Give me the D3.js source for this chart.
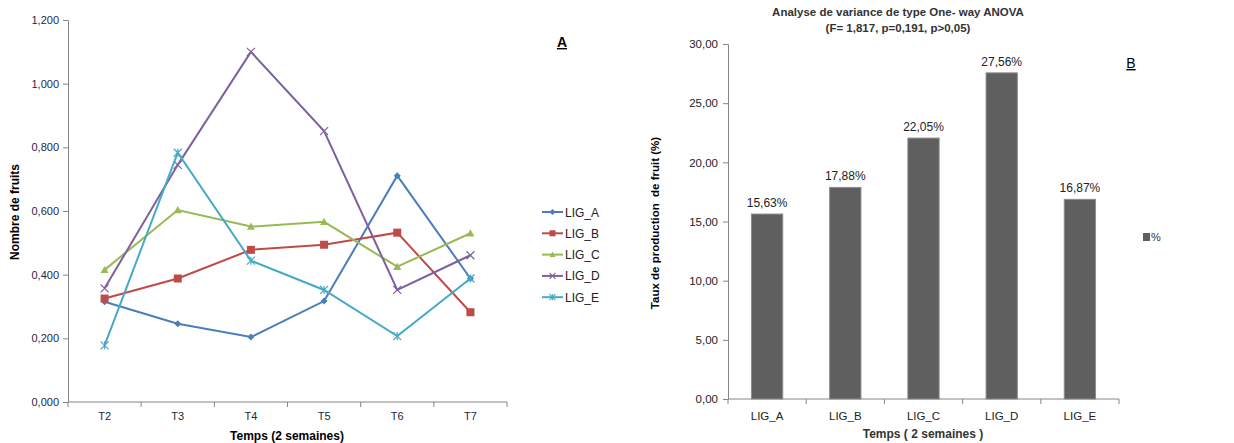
<!DOCTYPE html>
<html>
<head>
<meta charset="utf-8">
<script src="https://cdn.jsdelivr.net/npm/d3@7"></script>
<style>
  body { margin: 0; background: #fff; }
  svg { font-family: "Liberation Sans", Arial, sans-serif; }
  .axis path, .axis line { stroke: #868686; }
  .axis text { fill: #1f1f3f; font-size: 11px; }
  .axisB text { fill: #222; font-size: 11.5px; }
</style>
</head>
<body>
<div id="svg-container" style="width:1234px;height:443px;"></div>
<script>
var width = 1234, height = 443;

// chart A : number of fruits per fortnight
var periods = ["T2", "T3", "T4", "T5", "T6", "T7"];
var seriesNames = ["LIG_A", "LIG_B", "LIG_C", "LIG_D", "LIG_E"];
var ligA = [0.315, 0.246, 0.204, 0.317, 0.711, 0.388];
var ligB = [0.325, 0.388, 0.478, 0.494, 0.532, 0.282];
var ligC = [0.415, 0.603, 0.551, 0.566, 0.425, 0.530];
var ligD = [0.357, 0.745, 1.100, 0.851, 0.352, 0.461];
var ligE = [0.178, 0.783, 0.444, 0.352, 0.207, 0.388];
var yTicksA = [0, 0.2, 0.4, 0.6, 0.8, 1.0, 1.2];

// chart B : fruit production rate
var lines = ["LIG_A", "LIG_B", "LIG_C", "LIG_D", "LIG_E"];
var rates = [15.63, 17.88, 22.05, 27.56, 16.87];
var yTicksB = [0, 5, 10, 15, 20, 25, 30];

var colors = ["#4a7ebb", "#be4b48", "#98b954", "#7d60a0", "#46aac5"];
var symbols = ["diamond", "square", "triangle", "cross", "star"];

var svg = d3.select("#svg-container")
            .append("svg")
            .attr("width", width)
            .attr("height", height);

var frNum = function(d, n) { return d3.format("." + n + "f")(d).replace(".", ","); };

// ---------- chart A ----------
var gA = svg.append("g");

var scaleX = d3.scaleBand()
               .domain(periods)
               .range([68, 507]);

var scaleY = d3.scaleLinear()
               .domain([0, 1.2])
               .range([402, 20]);

gA.append("g")
  .attr("class", "axis")
  .attr("transform", "translate(68,0)")
  .call(d3.axisLeft(scaleY)
          .tickValues(yTicksA)
          .tickSize(5)
          .tickFormat(function(d) { return frNum(d, 3); }))
  .call(function(g) { g.selectAll("text").attr("x", -9); });

var xAxA = gA.append("g")
  .attr("class", "axis")
  .attr("transform", "translate(0,402)")
  .call(d3.axisBottom(scaleX).tickSize(0).tickPadding(10));
xAxA.select(".domain").attr("d", "M68,0H507");
// ticks on band edges
xAxA.selectAll(".edge")
    .data(d3.range(periods.length + 1))
    .enter()
    .append("line")
    .attr("stroke", "#868686")
    .attr("x1", function(i) { return 68 + i * scaleX.step(); })
    .attr("x2", function(i) { return 68 + i * scaleX.step(); })
    .attr("y1", 0)
    .attr("y2", 5);

var allSeries = [ligA, ligB, ligC, ligD, ligE];

var line = d3.line()
             .x(function(d, i) { return scaleX(periods[i]) + scaleX.bandwidth() / 2; })
             .y(function(d) { return scaleY(d); });

function drawMarker(g, type, color, x, y, s) {
  if (type === "diamond") {
    g.append("path").attr("d", "M" + x + "," + (y - s) + "L" + (x + s) + "," + y + "L" + x + "," + (y + s) + "L" + (x - s) + "," + y + "Z")
     .attr("fill", color);
  } else if (type === "square") {
    g.append("rect").attr("x", x - s).attr("y", y - s).attr("width", 2 * s).attr("height", 2 * s)
     .attr("fill", color);
  } else if (type === "triangle") {
    g.append("path").attr("d", "M" + x + "," + (y - s) + "L" + (x + s) + "," + (y + s * 0.8) + "L" + (x - s) + "," + (y + s * 0.8) + "Z")
     .attr("fill", color);
  } else if (type === "cross") {
    g.append("path").attr("d", "M" + (x - s) + "," + (y - s) + "L" + (x + s) + "," + (y + s) + "M" + (x - s) + "," + (y + s) + "L" + (x + s) + "," + (y - s))
     .attr("stroke", color).attr("stroke-width", 1.2).attr("fill", "none");
  } else {
    g.append("path").attr("d", "M" + (x - s) + "," + (y - s) + "L" + (x + s) + "," + (y + s) + "M" + (x - s) + "," + (y + s) + "L" + (x + s) + "," + (y - s) + "M" + x + "," + (y - s) + "L" + x + "," + (y + s))
     .attr("stroke", color).attr("stroke-width", 1.2).attr("fill", "none");
  }
}

allSeries.forEach(function(data, k) {
  gA.append("path")
    .datum(data)
    .attr("class", "line")
    .attr("fill", "none")
    .attr("stroke", colors[k])
    .attr("stroke-width", 2)
    .attr("d", line);

  var sizes = { diamond: 3.5, square: 4, triangle: 4, cross: 4, star: 4 };
  data.forEach(function(d, i) {
    drawMarker(gA, symbols[k], colors[k],
               scaleX(periods[i]) + scaleX.bandwidth() / 2, scaleY(d), sizes[symbols[k]]);
  });
});

// legend A
var legendA = gA.append("g").attr("transform", "translate(542,212)");
seriesNames.forEach(function(name, k) {
  var row = legendA.append("g").attr("transform", "translate(0," + (k * 21.3) + ")");
  row.append("line").attr("x1", 0).attr("x2", 21).attr("y1", 0).attr("y2", 0)
     .attr("stroke", colors[k]).attr("stroke-width", 2);
  drawMarker(row, symbols[k], colors[k], 10.5, 0, 3);
  row.append("text").attr("x", 23).attr("y", 4.5)
     .attr("font-size", "12px").attr("fill", "#222").text(name);
});

gA.append("text")
  .attr("x", 562).attr("y", 47)
  .attr("text-anchor", "middle")
  .attr("font-size", "14px").attr("font-weight", "bold")
  .attr("text-decoration", "underline")
  .text("A");

gA.append("text")
  .attr("transform", "translate(19,212) rotate(270)")
  .attr("text-anchor", "middle")
  .attr("font-size", "12px").attr("font-weight", "bold")
  .text("Nombre de fruits");

gA.append("text")
  .attr("x", 287).attr("y", 440)
  .attr("text-anchor", "middle")
  .attr("font-size", "12px").attr("font-weight", "bold")
  .text("Temps (2 semaines)");

// ---------- chart B ----------
var gB = svg.append("g");

var scaleXB = d3.scaleBand()
                .domain(lines)
                .range([728, 1119])
                .paddingInner(0.6)
                .paddingOuter(0.3);

var scaleYB = d3.scaleLinear()
                .domain([0, 30])
                .range([399, 44]);

gB.append("g")
  .attr("class", "axis axisB")
  .attr("transform", "translate(728,0)")
  .call(d3.axisLeft(scaleYB)
          .tickValues(yTicksB)
          .tickSize(5)
          .tickFormat(function(d) { return frNum(d, 2); }))
  .call(function(g) { g.selectAll("text").attr("x", -10); });

var stepB = (1119 - 728) / lines.length;
var xAxB = gB.append("g")
  .attr("class", "axis axisB")
  .attr("transform", "translate(0,399)");
xAxB.append("path").attr("d", "M728,0H1119").attr("stroke", "#868686");
xAxB.selectAll(".edge")
    .data(d3.range(lines.length + 1))
    .enter()
    .append("line")
    .attr("stroke", "#868686")
    .attr("x1", function(i) { return 728 + i * stepB; })
    .attr("x2", function(i) { return 728 + i * stepB; })
    .attr("y1", 0)
    .attr("y2", 5);
xAxB.selectAll(".lbl")
    .data(lines)
    .enter()
    .append("text")
    .attr("x", function(d) { return scaleXB(d) + scaleXB.bandwidth() / 2; })
    .attr("y", 21)
    .attr("text-anchor", "middle")
    .attr("font-size", "12px")
    .attr("fill", "#222")
    .text(function(d) { return d; });

gB.selectAll(".bar")
  .data(rates)
  .enter()
  .append("rect")
  .attr("class", "bar")
  .attr("x", function(d, i) { return scaleXB(lines[i]); })
  .attr("width", scaleXB.bandwidth())
  .attr("y", function(d) { return scaleYB(d); })
  .attr("height", function(d) { return 399 - scaleYB(d); })
  .attr("fill", "#5f5f5f")
  .attr("stroke", "#8c8c8c")
  .attr("stroke-width", 1);

gB.selectAll(".barLabel")
  .data(rates)
  .enter()
  .append("text")
  .attr("class", "barLabel")
  .attr("x", function(d, i) { return scaleXB(lines[i]) + scaleXB.bandwidth() / 2; })
  .attr("y", function(d) { return scaleYB(d) - 7; })
  .attr("text-anchor", "middle")
  .attr("font-size", "12px")
  .attr("fill", "#222")
  .text(function(d) { return frNum(d, 2) + "%"; });

gB.append("text")
  .attr("x", 898).attr("y", 16)
  .attr("text-anchor", "middle")
  .attr("font-size", "11.5px").attr("font-weight", "bold")
  .attr("fill", "#333")
  .text("Analyse de variance de type One- way ANOVA");

gB.append("text")
  .attr("x", 898).attr("y", 32)
  .attr("text-anchor", "middle")
  .attr("font-size", "11.5px").attr("font-weight", "bold")
  .attr("fill", "#333")
  .text("(F= 1,817, p=0,191, p>0,05)");

gB.append("text")
  .attr("x", 1131).attr("y", 68)
  .attr("text-anchor", "middle")
  .attr("font-size", "14px")
  .attr("text-decoration", "underline")
  .text("B");

gB.append("rect")
  .attr("x", 1143).attr("y", 233)
  .attr("width", 7).attr("height", 8)
  .attr("fill", "#5f5f5f");
gB.append("text")
  .attr("x", 1151).attr("y", 241)
  .attr("font-size", "11px").attr("fill", "#333")
  .text("%");

gB.append("text")
  .attr("transform", "translate(659,223) rotate(270)")
  .attr("text-anchor", "middle")
  .attr("font-size", "11.5px").attr("font-weight", "bold")
  .text("Taux de production  de fruit (%)")
  .style("white-space", "pre");

gB.append("text")
  .attr("x", 923).attr("y", 438)
  .attr("text-anchor", "middle")
  .attr("font-size", "12px").attr("font-weight", "bold")
  .attr("fill", "#333")
  .style("white-space", "pre")
  .text("Temps ( 2 semaines )");
</script>
</body>
</html>
